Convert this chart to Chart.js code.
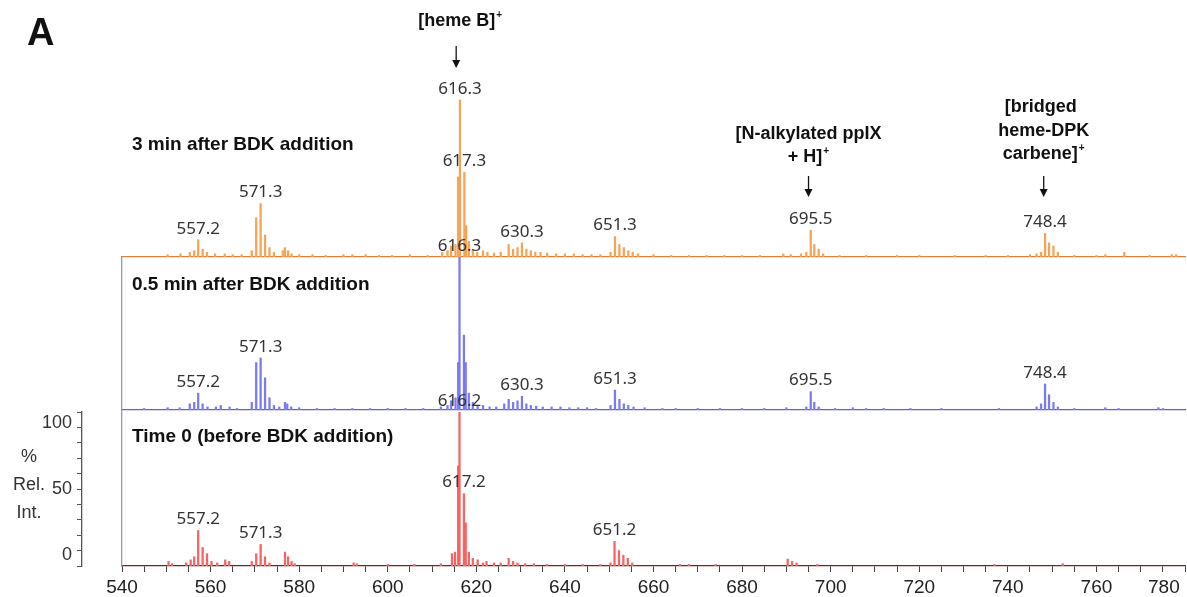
<!DOCTYPE html>
<html>
<head>
<meta charset="utf-8">
<script src="https://cdn.jsdelivr.net/npm/chart.js@4.4.1/dist/chart.umd.min.js"></script>
<style>
  html, body { margin: 0; padding: 0; background: #fff; overflow: hidden; }
  #wrap { position: relative; width: 1187px; height: 597px; }
  canvas { position: absolute; left: 0; }
</style>
</head>
<body>
<div id="wrap">
  <canvas id="cTop" width="1187" height="258" style="top:0px"></canvas>
  <canvas id="cMid" width="1187" height="181" style="top:230px"></canvas>
  <canvas id="cBot" width="1187" height="207" style="top:390px"></canvas>
</div>
<script>
// m/z range and ticks
const mzMin = 540;
const mzMax = 780;
const mzLabelStep = 20;

// 3 min after BDK addition (orange)
const topMz = [550.3, 553.2, 555.3, 556.3, 557.2, 558.2, 559.2, 561, 563.2, 565, 567, 569.3, 570.3, 571.3, 572.3, 573.3, 574.3, 576.3, 576.8, 577.5, 578.3, 580, 583, 586, 590, 592, 595, 598, 601, 605, 609, 612.3, 613.5, 614.3, 615.3, 615.9, 616.3, 617.3, 617.7, 618.3, 619.2, 620.2, 621.5, 622.5, 624, 625.5, 627.3, 628.3, 629.3, 630.3, 631.3, 632.3, 633.3, 634.5, 636, 638, 640, 642, 644, 646, 648, 650.3, 651.3, 652.3, 653.3, 654.3, 655.3, 656.5, 660, 664, 668, 672, 676, 680, 684, 689.3, 691, 693.3, 694.5, 695.5, 696.3, 697.3, 698.3, 702, 708, 715, 720, 728, 735, 740, 745, 746.5, 747.5, 748.4, 749.3, 750.3, 751.3, 755, 760, 762, 766.3, 772, 777, 778];
const topInt = [1.5, 2, 3, 4, 11, 5, 3, 2, 2, 1.5, 1.5, 4, 25, 34, 14, 6, 3, 4, 6, 4, 2, 1.5, 1.5, 1, 1.5, 1.5, 1.5, 1, 1, 1.5, 1, 3, 4, 7, 8, 51, 100, 54, 20, 10, 5, 3, 4, 3, 2.5, 3, 8, 5, 6, 9, 5, 4, 3, 3, 2.5, 2, 2, 2, 1.5, 1.5, 1.5, 3, 13, 8, 6, 4, 3, 2, 1.5, 1, 1, 1, 1, 1, 1, 2, 1.5, 2, 3, 17, 8, 5, 2, 1, 1, 1, 1, 1, 1, 1, 1.5, 2, 3, 15, 9, 7, 3, 1, 1, 1.5, 3, 1, 1.5, 1.5];
const topLabelMz = [557.2, 571.3, 616.3, 617.3, 630.3, 651.3, 695.5, 748.4];
const topLabelText = ["557.2", "571.3", "616.3", "617.3", "630.3", "651.3", "695.5", "748.4"];

// 0.5 min after BDK addition (blue)
const midMz = [545, 550.3, 553, 555.3, 556.3, 557.2, 558.2, 559.3, 561.2, 562.3, 564.3, 566, 569.3, 570.3, 571.3, 572.3, 573.3, 574.3, 575.5, 576.8, 577.3, 578.2, 580, 584, 588, 592, 596, 600, 604, 608, 612, 613.5, 614.3, 615.3, 615.9, 616.2, 617.2, 617.6, 618.3, 619.2, 620.3, 621.5, 623, 624.5, 626.3, 627.3, 628.3, 629.3, 630.3, 631.3, 632.3, 633.5, 635, 637, 639, 641, 643, 645, 647, 650.3, 651.3, 652.3, 653.3, 654.3, 655.5, 658, 662, 665, 670, 675, 680, 685, 690, 694.5, 695.5, 696.3, 697.3, 701, 705, 708, 712, 718, 725, 738, 746.5, 747.5, 748.4, 749.3, 750.3, 751.3, 755, 762, 765, 774, 775];
const midInt = [1, 1.5, 1.5, 4, 5, 11, 4, 2, 2, 3, 2, 1, 5, 31, 34, 21, 8, 3, 2, 5, 4, 2, 1.5, 1, 1, 1, 1, 1, 1, 1, 2, 3, 6, 8, 31, 100, 49, 31, 11, 5, 3, 3, 2, 2, 4, 7, 5, 6, 9, 4, 3, 2.5, 2, 2, 2, 1.5, 1.5, 1.5, 1, 3, 13, 7, 4, 3, 2, 1.5, 1, 1, 1, 1, 1, 1, 1.5, 2, 12, 5, 2, 1, 1.5, 1, 1, 1, 1, 1, 2, 4, 17, 10, 5, 2, 1, 1.5, 1, 1.5, 1];
const midLabelMz = [557.2, 571.3, 616.2, 630.3, 651.3, 695.5, 748.4];
const midLabelText = ["557.2", "571.3", "616.3", "630.3", "651.3", "695.5", "748.4"];

// Time 0, before BDK addition (red)
const botMz = [550.5, 551.3, 554.5, 555.5, 556.3, 557.2, 558.2, 559.2, 560.2, 561.5, 563.3, 564.2, 569.3, 570.3, 571.3, 572.3, 573.3, 576.8, 577.5, 578.3, 579, 592.3, 593, 600, 606, 612, 614.5, 615.2, 615.9, 616.2, 617.2, 617.6, 618.3, 619.2, 620.3, 621.5, 622.3, 624, 625.5, 627.3, 628.3, 629.3, 631, 633, 636, 640, 644, 648, 650.3, 651.2, 652.2, 653.2, 654.2, 655.2, 666, 668, 674, 690.3, 691.3, 692.3, 697, 737, 752.4];
const botInt = [3, 1.5, 2, 4, 6, 23, 12, 8, 3, 2, 4, 3, 3, 8, 14, 6, 2, 9, 6, 3, 1.5, 2, 1.5, 1, 1, 1.5, 8, 9, 65, 100, 47, 28, 9, 5, 4, 2, 3, 2, 2, 5, 3, 2, 1.5, 1.5, 1, 1, 1, 1, 2, 16, 10, 7, 5, 2, 1, 1, 1, 4.5, 3, 2, 1, 1, 1.5];
const botLabelMz = [557.2, 571.3, 616.2, 617.2, 651.2];
const botLabelText = ["557.2", "571.3", "616.2", "617.2", "651.2"];

// percent axis of the bottom panel
const pctTicks = [0, 10, 20, 30, 40, 50, 60, 70, 80, 90, 100];

const orange = "rgb(247,163,86)";
const blue = "rgb(122,122,245)";
const red = "rgb(248,98,98)";

Chart.defaults.font.family = '"Liberation Sans", Arial, sans-serif';

function points(mz, inten) {
  return mz.map((m, i) => ({ x: m, y: inten[i] }));
}

function heightAt(mz, inten, m) {
  let best = 0;
  for (let i = 0; i < mz.length; i++) {
    if (Math.abs(mz[i] - m) < 0.05) best = Math.max(best, inten[i]);
  }
  return best;
}

function xScale(borderColor, showTicks) {
  return {
    type: "linear",
    min: mzMin,
    max: mzMax,
    offset: false,
    grid: { display: showTicks, drawOnChartArea: false, offset: false, tickLength: 6, tickColor: "#444", lineWidth: 1 },
    border: { display: true, color: borderColor, width: 1.3 },
    ticks: showTicks ? {
      stepSize: 5,
      autoSkip: false,
      maxRotation: 0,
      padding: 4,
      color: "#222",
      font: { size: 19 },
      callback: (v) => {
        if (v % mzLabelStep !== 0) return "";
        // last label sits against the right edge, pad it so it shifts left
        return v === mzMax ? v + "        " : "" + v;
      },
    } : { display: false },
    afterFit: (s) => {
      s.height = showTicks ? 31 : 1;
      s.paddingLeft = 0;
      s.paddingRight = 0;
    },
  };
}

function dataset(mz, inten, color) {
  return {
    data: points(mz, inten),
    backgroundColor: color,
    borderWidth: 0,
    barThickness: 1.6,
    grouped: false,
  };
}

// peak m/z labels above each labelled peak
const peakLabels = {
  id: "peakLabels",
  afterDatasetsDraw(chart, args, opts) {
    const ctx = chart.ctx;
    const xs = chart.scales.x;
    const ys = chart.scales.y;
    ctx.save();
    ctx.font = '17px "Noto Sans", "Segoe UI", sans-serif';
    ctx.fillStyle = "#333";
    ctx.textAlign = "center";
    ctx.textBaseline = "middle";
    for (let i = 0; i < opts.mz.length; i++) {
      const h = heightAt(opts.allMz, opts.allInt, opts.mz[i]);
      ctx.fillText(opts.text[i], xs.getPixelForValue(opts.mz[i]), ys.getPixelForValue(h) - 11);
    }
    ctx.restore();
  },
};

function drawSup(ctx, parts, cx, cy, size) {
  // text with a small superscript "+", centred on cx
  ctx.font = "bold " + size + 'px "Liberation Sans", Arial';
  const w1 = ctx.measureText(parts[0]).width;
  ctx.font = "bold " + Math.round(size * 0.55) + 'px "Liberation Sans", Arial';
  const w2 = parts[1] ? ctx.measureText(parts[1]).width + 1 : 0;
  const x0 = cx - (w1 + w2) / 2;
  ctx.textAlign = "left";
  ctx.textBaseline = "middle";
  ctx.font = "bold " + size + 'px "Liberation Sans", Arial';
  ctx.fillText(parts[0], x0, cy);
  if (parts[1]) {
    ctx.font = "bold " + Math.round(size * 0.55) + 'px "Liberation Sans", Arial';
    ctx.fillText(parts[1], x0 + w1 + 1, cy - size * 0.3);
  }
}

function drawArrow(ctx, x, y1, y2) {
  ctx.beginPath();
  ctx.moveTo(x, y1);
  ctx.lineTo(x, y2 - 6);
  ctx.strokeStyle = "#111";
  ctx.lineWidth = 1.3;
  ctx.stroke();
  ctx.beginPath();
  ctx.moveTo(x - 4, y2 - 8);
  ctx.lineTo(x + 4, y2 - 8);
  ctx.lineTo(x, y2);
  ctx.closePath();
  ctx.fillStyle = "#111";
  ctx.fill();
}

// panel titles, annotations, arrows
const notes = {
  id: "notes",
  afterDraw(chart, args, opts) {
    const ctx = chart.ctx;
    const xs = chart.scales.x;
    ctx.save();
    ctx.fillStyle = "#111";
    ctx.textAlign = "left";
    ctx.textBaseline = "middle";
    ctx.font = 'bold 19px "Liberation Sans", Arial';
    ctx.fillText(opts.title, chart.chartArea.left + 10, opts.titleY);
    if (opts.top) {
      ctx.font = 'bold 38px "Liberation Sans", Arial';
      ctx.fillText("A", 27, 35);
      const xh = xs.getPixelForValue(615.9);
      const xn = xs.getPixelForValue(695.0);
      const xb = xs.getPixelForValue(748.1);
      drawSup(ctx, ["[heme B]", "+"], xh + 2, 21, 18);
      drawArrow(ctx, xh - 2, 46, 68);
      drawSup(ctx, ["[N-alkylated ppIX", ""], xn, 134, 18);
      drawSup(ctx, ["+ H]", "+"], xn, 157, 18);
      drawArrow(ctx, xn, 176, 197);
      drawSup(ctx, ["[bridged", ""], xb - 3, 107, 18);
      drawSup(ctx, ["heme-DPK", ""], xb, 131, 18);
      drawSup(ctx, ["carbene]", "+"], xb, 154, 18);
      drawArrow(ctx, xb, 176, 197);
    }
    if (opts.bottom) {
      ctx.fillStyle = "#333";
      ctx.textAlign = "center";
      ctx.font = '18px "Liberation Sans", Arial';
      ctx.fillText("%", 29, 67);
      ctx.fillText("Rel.", 29, 95);
      ctx.fillText("Int.", 29, 123);
    }
    ctx.restore();
  },
};

function hiddenY(max, showBorder) {
  return {
    type: "linear",
    position: "left",
    min: 0,
    max: max,
    grid: { display: false },
    border: { display: showBorder, color: "#9a9a9a", width: 1.3 },
    ticks: { display: false },
    afterFit: (s) => { s.width = 122; },
  };
}

// top panel: 3 min
new Chart(document.getElementById("cTop"), {
  type: "bar",
  data: { datasets: [dataset(topMz, topInt, orange)] },
  options: {
    responsive: false,
    animation: false,
    layout: { padding: { left: 0, right: 2, top: 0, bottom: 0 } },
    scales: {
      x: xScale("rgb(214,132,62)", false),
      y: hiddenY(163.7, false),
    },
    plugins: {
      legend: { display: false },
      tooltip: { enabled: false },
      peakLabels: { mz: topLabelMz, text: topLabelText, allMz: topMz, allInt: topInt },
      notes: { title: "3 min after BDK addition", titleY: 145, top: true },
    },
  },
  plugins: [peakLabels, notes],
});

// middle panel: 0.5 min
new Chart(document.getElementById("cMid"), {
  type: "bar",
  data: { datasets: [dataset(midMz, midInt, blue)] },
  options: {
    responsive: false,
    animation: false,
    layout: { padding: { left: 0, right: 2, top: 27, bottom: 0 } },
    scales: {
      x: xScale("rgb(96,96,222)", false),
      y: hiddenY(100, true),
    },
    plugins: {
      legend: { display: false },
      tooltip: { enabled: false },
      peakLabels: { mz: midLabelMz, text: midLabelText, allMz: midMz, allInt: midInt },
      notes: { title: "0.5 min after BDK addition", titleY: 285 - 230 },
    },
  },
  plugins: [peakLabels, notes],
});

// bottom panel: time 0, with the % axis and the m/z axis
const pctShown = [0, 7, 10, 20, 30, 40, 50, 60, 70, 80, 90, 93, 100];
new Chart(document.getElementById("cBot"), {
  type: "bar",
  data: { datasets: [dataset(botMz, botInt, red)] },
  options: {
    responsive: false,
    animation: false,
    layout: { padding: { left: 0, right: 2, top: 22, bottom: 0 } },
    scales: {
      x: xScale("rgb(120,35,35)", true),
      y: {
        type: "linear",
        position: "left",
        weight: 0,
        min: 0,
        max: 100,
        grid: { display: false },
        border: { display: true, color: "#9a9a9a", width: 1.3 },
        ticks: { display: false },
        afterFit: (s) => { s.width = 40; },
      },
      yp: {
        type: "linear",
        position: "left",
        weight: 1,
        min: 0,
        max: 100,
        grid: {
          display: true,
          drawOnChartArea: false,
          tickLength: 5,
          tickColor: (c) => (c.tick && pctTicks.indexOf(c.tick.value) < 0 ? "rgba(0,0,0,0)" : "#555"),
        },
        border: { display: true, color: "#555", width: 1.3 },
        afterBuildTicks: (s) => { s.ticks = pctShown.map((v) => ({ value: v })); },
        ticks: {
          padding: 5,
          color: "#333",
          font: { size: 18 },
          autoSkip: false,
          // labels sit a little inside the bracket ends, as in the figure
          callback: (v) => (v === 7 ? "0" : v === 93 ? "100" : v === 50 ? "50" : ""),
        },
        afterFit: (s) => { s.width = 82; },
      },
    },
    plugins: {
      legend: { display: false },
      tooltip: { enabled: false },
      peakLabels: { mz: botLabelMz, text: botLabelText, allMz: botMz, allInt: botInt },
      notes: { title: "Time 0 (before BDK addition)", titleY: 437 - 390, bottom: true },
    },
  },
  plugins: [peakLabels, notes],
});
</script>
</body>
</html>
